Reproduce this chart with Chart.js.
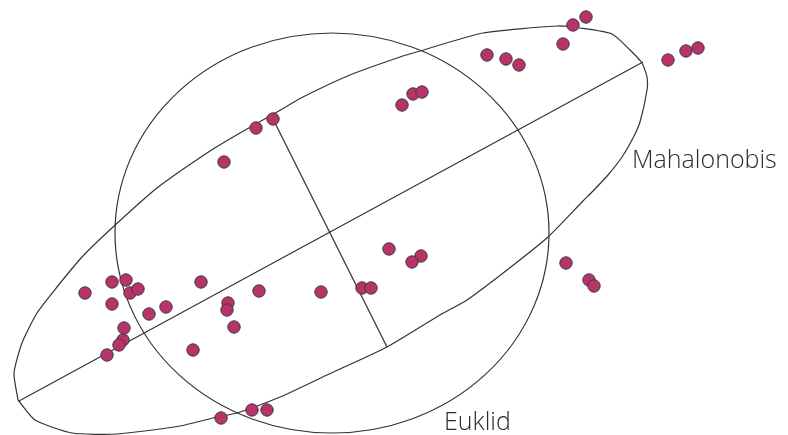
<!DOCTYPE html>
<html>
<head>
<meta charset="utf-8">
<style>
  html, body { margin: 0; padding: 0; background: #ffffff; }
  #wrap { width: 788px; height: 435px; position: relative; }
</style>
<script src="https://cdn.jsdelivr.net/npm/chart.js@4/dist/chart.umd.min.js"></script>
</head>
<body>
<div id="wrap"><canvas id="chart"></canvas></div>
<script>
// Observations (x, y in plot units; y grows downward)
const obsX = [85, 112, 126, 130, 138, 112, 149, 166, 201, 228, 227, 234, 259, 124, 123, 119, 107, 193,
              221, 252, 267, 321, 362, 371, 586, 573, 563, 487, 506, 519, 402, 413, 422, 668, 686, 698,
              273, 256, 224, 389, 421, 412, 566, 589, 594];
const obsY = [293, 282, 280, 293, 289, 304, 314, 307, 282, 303, 310, 327, 291, 328, 340, 345, 355, 350,
              418, 410, 410, 292, 288, 288, 17, 25, 44, 55, 59, 65, 105, 94, 92, 60, 51, 48,
              119, 128, 162, 249, 256, 262, 263, 280, 286];

// Mahalanobis distance contour (traced outline)
const mahaX = [18, 14, 22, 37, 57, 82, 113, 157, 210, 240, 277, 303, 350, 400, 420, 483, 557, 580, 612,
               630, 642, 647, 647, 640, 633, 622, 608, 593, 583, 548, 507, 467, 440, 387, 327,
               280, 237, 213, 180, 117, 72, 35, 18];
const mahaY = [400, 373, 343, 313, 287, 257, 227, 188, 151, 133, 112, 97, 75, 57, 51, 33, 26, 28, 34,
               50, 63, 77, 90, 122, 138, 157, 175, 191, 201, 237, 270, 300, 315, 347, 375,
               397, 413, 418, 426, 434, 433, 420, 400];

// Principal axes of the contour
const majorAxisX = [19, 643];
const majorAxisY = [401, 62];
const minorAxisX = [273, 387];
const minorAxisY = [119, 347];

// Euclidean distance contour: centre and radii
const euklidCenter = [332, 233];
const euklidRadii = [217, 200];

// Curve names
const labelTexts = ['Mahalonobis', 'Euklid'];
const labelAnchors = [[632, 168], [444, 430]];

const toPoints = (xs, ys) => xs.map((x, i) => ({ x: x, y: ys[i] }));

const LINE = '#333333';

const euklidPlugin = {
  id: 'euklid',
  beforeDatasetsDraw(chart) {
    const { ctx, scales: { x, y } } = chart;
    const cx = x.getPixelForValue(euklidCenter[0]);
    const cy = y.getPixelForValue(euklidCenter[1]);
    const rx = Math.abs(x.getPixelForValue(euklidCenter[0] + euklidRadii[0]) - cx);
    const ry = Math.abs(y.getPixelForValue(euklidCenter[1] + euklidRadii[1]) - cy);
    ctx.save();
    ctx.strokeStyle = LINE;
    ctx.lineWidth = 1.2;
    ctx.beginPath();
    ctx.ellipse(cx, cy, rx, ry, 0, 0, Math.PI * 2);
    ctx.stroke();
    ctx.restore();
  },
  afterDatasetsDraw(chart) {
    const { ctx, scales: { x, y } } = chart;
    ctx.save();
    ctx.fillStyle = '#2b2b2b';
    ctx.font = '300 25px "Open Sans", Lato, sans-serif';
    ctx.textBaseline = 'alphabetic';
    labelTexts.forEach((t, i) => {
      ctx.fillText(t, x.getPixelForValue(labelAnchors[i][0]), y.getPixelForValue(labelAnchors[i][1]));
    });
    ctx.restore();
  }
};

new Chart(document.getElementById('chart'), {
  type: 'scatter',
  data: {
    datasets: [
      {
        data: toPoints(obsX, obsY),
        backgroundColor: '#b8336a',
        borderColor: '#3a3a3a',
        borderWidth: 1,
        pointRadius: 6.2,
        order: 0,
        clip: false
      },
      {
        data: toPoints(mahaX, mahaY),
        showLine: true,
        borderColor: LINE,
        borderWidth: 1.2,
        pointRadius: 0,
        tension: 0.2,
        fill: false,
        order: 1,
        clip: false
      },
      {
        data: toPoints(majorAxisX, majorAxisY),
        showLine: true,
        borderColor: LINE,
        borderWidth: 1.2,
        pointRadius: 0,
        order: 1
      },
      {
        data: toPoints(minorAxisX, minorAxisY),
        showLine: true,
        borderColor: LINE,
        borderWidth: 1.2,
        pointRadius: 0,
        order: 1
      }
    ]
  },
  options: {
    responsive: true,
    maintainAspectRatio: false,
    animation: false,
    layout: { padding: 0, autoPadding: false },
    plugins: { legend: { display: false }, tooltip: { enabled: false } },
    scales: {
      x: { type: 'linear', min: 0, max: 788, display: false },
      y: { type: 'linear', min: 0, max: 435, reverse: true, display: false }
    }
  },
  plugins: [euklidPlugin]
});
</script>
</body>
</html>
